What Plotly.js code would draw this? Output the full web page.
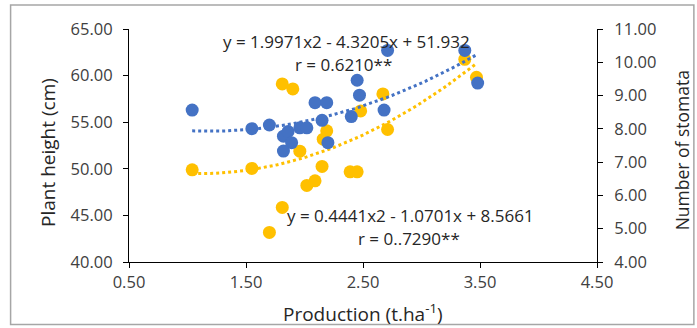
<!DOCTYPE html>
<html><head><meta charset="utf-8">
<script src="https://cdn.plot.ly/plotly-3.0.1.min.js"></script>
<style>html,body{margin:0;padding:0;background:#fff}#chart{width:697px;height:328px}</style>
</head><body><div id="chart"></div>
<script>
// Plant height (cm) vs production
var heightX = [1.04, 1.55, 1.70, 1.82, 1.86, 1.89, 1.82, 1.96, 2.02, 2.09, 2.19, 2.15, 2.20, 2.45, 2.47, 2.40, 2.68, 2.71, 3.37, 3.48];
var heightY = [56.3, 54.3, 54.7, 53.5, 54.0, 52.8, 51.9, 54.4, 54.4, 57.1, 57.1, 55.2, 52.8, 59.5, 57.9, 55.6, 56.3, 62.7, 62.7, 59.2];
// Number of stomata vs production
var stomataX = [1.04, 1.55, 1.81, 1.90, 1.96, 2.02, 2.09, 2.15, 2.19, 2.16, 1.81, 1.70, 2.39, 2.45, 2.48, 2.67, 2.71, 3.37, 3.47];
var stomataY = [6.77, 6.81, 9.35, 9.20, 7.33, 6.30, 6.44, 6.87, 7.94, 7.69, 5.64, 4.89, 6.71, 6.71, 8.54, 9.05, 7.98, 10.09, 9.55];
// Texts
var eqHeight = "y = 1.9971x2 - 4.3205x + 51.932";
var rHeight = "r = 0.6210**";
var eqStomata = "y = 0.4441x2 - 1.0701x + 8.5661";
var rStomata = "r = 0..7290**";
var xTitle = "Production (t.ha<sup>-1</sup>)";
var yLeftTitle = "Plant height (cm)";
var yRightTitle = "Number of stomata";

// quadratic least squares fit (Excel-style polynomial trendline)
function quadFit(xs, ys) {
  var S = [0,0,0,0,0], T = [0,0,0];
  for (var i = 0; i < xs.length; i++) {
    var x = xs[i], y = ys[i], p = 1;
    for (var k = 0; k < 5; k++) { S[k] += p; if (k < 3) T[k] += p * y; p *= x; }
  }
  var A = [[S[0],S[1],S[2],T[0]],[S[1],S[2],S[3],T[1]],[S[2],S[3],S[4],T[2]]];
  for (var c = 0; c < 3; c++) {
    for (var r = c + 1; r < 3; r++) {
      var f = A[r][c] / A[c][c];
      for (var j = c; j < 4; j++) A[r][j] -= f * A[c][j];
    }
  }
  var b = [0,0,0];
  for (var r2 = 2; r2 >= 0; r2--) {
    var s = A[r2][3];
    for (var j2 = r2 + 1; j2 < 3; j2++) s -= A[r2][j2] * b[j2];
    b[r2] = s / A[r2][r2];
  }
  return b;
}
function trend(xs, ys) {
  var b = quadFit(xs, ys);
  var lo = Math.min.apply(null, xs), hi = Math.max.apply(null, xs);
  var tx = [], ty = [];
  for (var i = 0; i <= 60; i++) {
    var x = lo + (hi - lo) * i / 60;
    tx.push(x); ty.push(b[0] + b[1] * x + b[2] * x * x);
  }
  return {x: tx, y: ty};
}
var tH = trend(heightX, heightY), tS = trend(stomataX, stomataY);

var blue = '#4472C4', gold = '#FFC000';
var data = [
  {x: tS.x, y: tS.y, mode: 'lines', yaxis: 'y', line: {color: gold, width: 3, dash: '3px,3px'}, hoverinfo: 'skip'},
  {x: stomataX, y: stomataY, mode: 'markers', yaxis: 'y', marker: {color: gold, size: 13}},
  {x: tH.x, y: tH.y, mode: 'lines', yaxis: 'y2', line: {color: blue, width: 3, dash: '3px,3px'}, hoverinfo: 'skip'},
  {x: heightX, y: heightY, mode: 'markers', yaxis: 'y2', marker: {color: blue, size: 13}}
];
var fam = 'Open Sans, Noto Sans, sans-serif';
var tickFont = {family: fam, size: 16.5, color: '#404040'};
var txtFont = {family: fam, size: 17, color: '#262626'};
var titleFont = {family: fam, size: 19, color: '#262626'};
var axCommon = {showgrid: false, zeroline: false, showline: true, linecolor: '#000', linewidth: 1,
  ticks: 'outside', ticklen: 5, tickcolor: '#000', tickfont: tickFont, tickformat: '.2f'};
var layout = {
  width: 697, height: 328,
  margin: {l: 129, r: 100, t: 29, b: 66},
  showlegend: false,
  paper_bgcolor: '#fff', plot_bgcolor: '#fff',
  xaxis: Object.assign({}, axCommon, {range: [0.5, 4.5], tick0: 0.5, dtick: 1}),
  yaxis: Object.assign({}, axCommon, {range: [4, 11], dtick: 1, side: 'right', ticklabelstandoff: 8}),
  yaxis2: Object.assign({}, axCommon, {range: [40, 65], dtick: 5, side: 'left', overlaying: 'y', ticklabelstandoff: 7}),
  font: tickFont,
  annotations: [
    {text: eqHeight, xref: 'x', yref: 'y2', x: 2.36, y: 63.7, showarrow: false, font: txtFont},
    {text: rHeight, xref: 'x', yref: 'y2', x: 2.33, y: 61.15, showarrow: false, font: txtFont},
    {text: eqStomata, xref: 'x', yref: 'y', x: 2.91, y: 5.41, showarrow: false, font: txtFont},
    {text: rStomata, xref: 'x', yref: 'y', x: 2.89, y: 4.72, showarrow: false, font: txtFont},
    {text: xTitle, xref: 'paper', yref: 'paper', x: 0.501, y: -0.219, xanchor: 'center', yanchor: 'middle', showarrow: false, font: titleFont},
    {text: yLeftTitle, xref: 'paper', yref: 'paper', x: -0.172, y: 0.47, xanchor: 'center', yanchor: 'middle', textangle: -90, showarrow: false, font: titleFont},
    {text: yRightTitle, xref: 'paper', yref: 'paper', x: 1.182, y: 0.48, xanchor: 'center', yanchor: 'middle', textangle: -90, showarrow: false, font: {family: fam, size: 17.5, color: '#262626'}}
  ],
  shapes: [
    {type: 'rect', xref: 'paper', yref: 'paper', x0: -0.253, x1: 1.207, y0: -0.268, y1: 1.103, line: {color: '#a6a6a6', width: 1.5}}
  ]
};
Plotly.newPlot('chart', data, layout, {displayModeBar: false, staticPlot: true});
</script>
</body></html>
